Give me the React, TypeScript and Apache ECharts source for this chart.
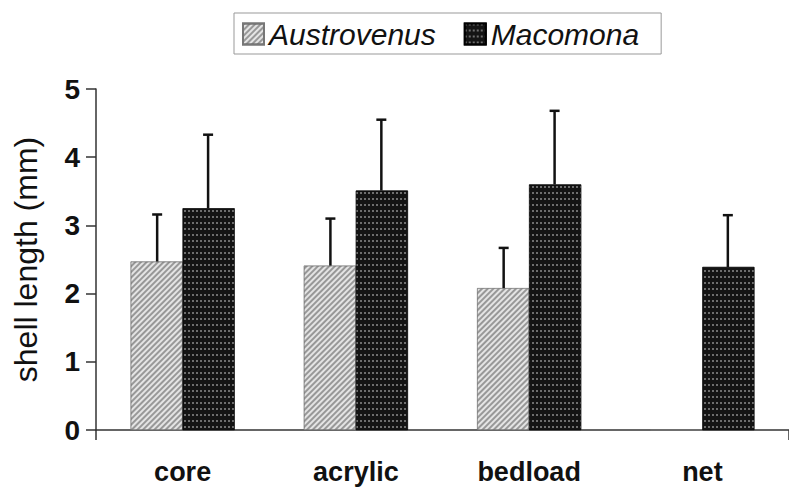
import React, { useEffect, useRef } from "react";
import * as echarts from "echarts";

const categories = ["core", "acrylic", "bedload", "net"];
const austrovenus = [2.47, 2.41, 2.08, 0];
const austrovenusErr = [0.69, 0.69, 0.59, null];
const macomona = [3.25, 3.51, 3.6, 2.39];
const macomonaErr = [1.08, 1.04, 1.08, 0.76];
const yTicks = [0, 1, 2, 3, 4, 5];

const FONT = "'Liberation Sans', Arial, sans-serif";

export default function App() {
  const ref = useRef<HTMLDivElement>(null);
  useEffect(() => {
    if (!ref.current) return;
    const chart = echarts.init(ref.current, undefined, { renderer: "svg" });

    const errData = (means: number[], errs: (number | null)[], side: number) =>
      means
        .map((m, i) => (errs[i] == null ? null : [i, m, m + (errs[i] as number), side]))
        .filter((d) => d != null);

    const renderErr = (params: any, api: any) => {
      const cat = api.value(0);
      const mean = api.value(1);
      const top = api.value(2);
      const side = api.value(3);
      const band = api.size([1, 0])[0];
      const p0 = api.coord([cat, mean]);
      const p1 = api.coord([cat, top]);
      const x = p0[0] + side * band * 0.147;
      return {
        type: "group",
        children: [
          {
            type: "line",
            shape: { x1: x, y1: p0[1], x2: x, y2: p1[1] },
            style: { stroke: "#111", lineWidth: 2.5 },
          },
          {
            type: "line",
            shape: { x1: x - 5, y1: p1[1], x2: x + 5, y2: p1[1] },
            style: { stroke: "#111", lineWidth: 2.5 },
          },
        ],
      };
    };

    chart.setOption({
      animation: false,
      aria: { enabled: true, decal: { show: true } },
      legend: {
        data: [
          { name: "Austrovenus", icon: "rect" },
          { name: "Macomona", icon: "rect" },
        ],
        top: 13,
        left: 234,
        itemWidth: 21,
        itemHeight: 21,
        itemGap: 28,
        padding: [6, 22, 5, 8],
        borderColor: "#999",
        borderWidth: 1,
        textStyle: { fontFamily: FONT, fontStyle: "italic", fontSize: 30, color: "#111" },
      },
      grid: { left: 96, right: -11, top: 89, bottom: 58 },
      xAxis: {
        type: "category",
        data: categories,
        axisLine: { lineStyle: { color: "#333", width: 1.5 } },
        axisTick: {
          show: true,
          length: 10,
          interval: (idx: number) => idx === 2,
          lineStyle: { color: "#333", width: 1.5 },
        },
        axisLabel: {
          fontFamily: FONT,
          fontWeight: "bold",
          fontSize: 27,
          color: "#111",
          margin: 28,
        },
      },
      yAxis: {
        type: "value",
        min: 0,
        max: 5,
        interval: 1,
        name: "shell length (mm)",
        nameLocation: "middle",
        nameGap: 54,
        nameTextStyle: { fontFamily: FONT, fontSize: 32, color: "#111" },
        axisLine: { show: true, lineStyle: { color: "#333", width: 1.5 } },
        axisTick: { show: true, length: 10, lineStyle: { color: "#333", width: 1.5 } },
        splitLine: { show: false },
        axisLabel: {
          fontFamily: FONT,
          fontWeight: "bold",
          fontSize: 28,
          color: "#111",
          margin: 16,
          formatter: (v: number) => (yTicks.includes(v) ? String(v) : ""),
        },
      },
      series: [
        {
          name: "Austrovenus",
          type: "bar",
          data: austrovenus,
          barWidth: 52,
          barGap: "0%",
          itemStyle: {
            color: "#e4e4e4",
            borderColor: "#777",
            borderWidth: 0.5,
            decal: {
              symbol: "rect",
              color: "rgba(60,60,60,0.45)",
              dashArrayX: [1, 0],
              dashArrayY: [1.2, 2],
              rotation: -Math.PI / 4,
              symbolSize: 1,
            },
          },
        },
        {
          name: "Macomona",
          type: "bar",
          data: macomona,
          barWidth: 52,
          barGap: "0%",
          itemStyle: {
            color: "#141414",
            borderColor: "#000",
            borderWidth: 0.5,
            decal: {
              symbol: "rect",
              color: "rgba(200,200,200,0.5)",
              dashArrayX: [[2, 2]],
              dashArrayY: [2, 4],
              rotation: 0,
              symbolSize: 1,
            },
          },
        },
        {
          type: "custom",
          name: "errA",
          data: errData(austrovenus, austrovenusErr, -1),
          renderItem: renderErr,
          itemStyle: { decal: "none" },
          z: 5,
        },
        {
          type: "custom",
          name: "errM",
          data: errData(macomona, macomonaErr, 1),
          renderItem: renderErr,
          itemStyle: { decal: "none" },
          z: 5,
        },
      ],
    });
    return () => chart.dispose();
  }, []);
  return <div ref={ref} style={{ width: 789, height: 488, position: "absolute", left: 0, top: 0 }} />;
}
